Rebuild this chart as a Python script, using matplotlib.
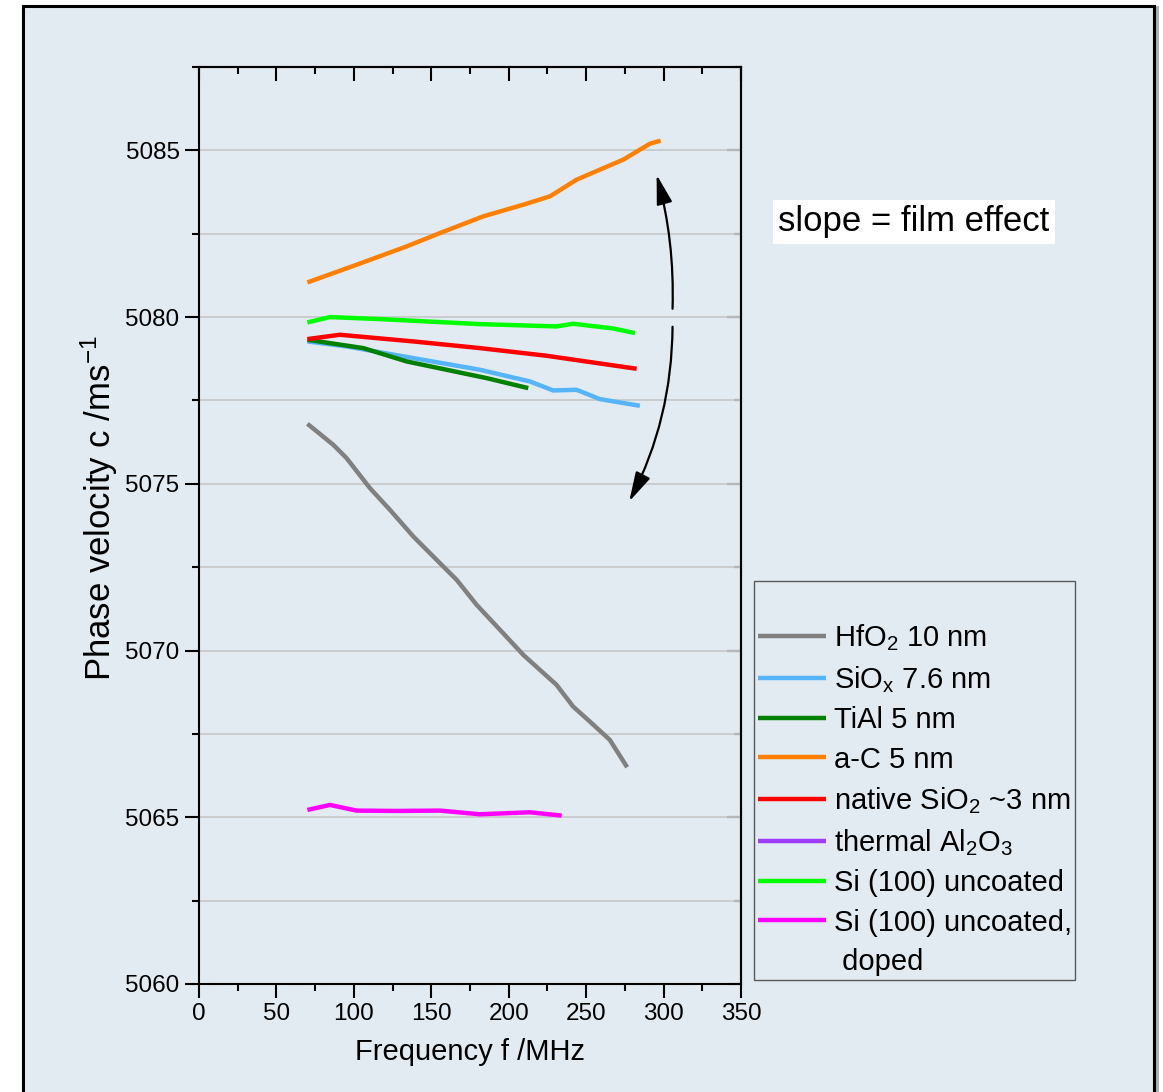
import numpy as np
import matplotlib
matplotlib.use('Agg')
import matplotlib.pyplot as plt
import matplotlib.patches as mpatches
from matplotlib.lines import Line2D
from matplotlib.ticker import MultipleLocator

# fonts (Arial look-alike)
plt.rcParams.update({
    'font.family': ['Liberation Sans', 'DejaVu Sans'],
    'mathtext.fontset': 'custom',
    'mathtext.rm': 'Liberation Sans',
    'mathtext.it': 'Liberation Sans:italic',
    'mathtext.bf': 'Liberation Sans:bold',
})

# data (frequency in MHz, phase velocity in m/s)
hfo2_f = [70.0, 86.7, 95.3, 110.4, 123.3, 138.4, 155.6, 166.4, 179.3, 196.4, 209.4, 230.9, 241.6, 252.4, 265.3, 276.5]
hfo2_c = [5076.80, 5076.17, 5075.77, 5074.87, 5074.22, 5073.42, 5072.62, 5072.12, 5071.37, 5070.52, 5069.87, 5068.97,
          5068.32, 5067.87, 5067.32, 5066.50]

siox_f = [70.0, 95.3, 138.4, 181.4, 213.7, 228.7, 243.8, 258.9, 284.7]
siox_c = [5079.27, 5079.12, 5078.77, 5078.42, 5078.07, 5077.80, 5077.82, 5077.54, 5077.34]

tial_f = [70.0, 106.1, 134.1, 159.9, 185.7, 212.6]
tial_c = [5079.32, 5079.07, 5078.67, 5078.42, 5078.17, 5077.87]

ac_f = [70.0, 101.8, 134.1, 155.6, 183.5, 209.4, 226.6, 243.8, 273.9, 291.2, 298.1]
ac_c = [5081.04, 5081.57, 5082.12, 5082.52, 5083.02, 5083.37, 5083.62, 5084.12, 5084.72, 5085.20, 5085.29]

native_f = [70.0, 91.0, 138.4, 181.4, 224.5, 282.6]
native_c = [5079.34, 5079.47, 5079.27, 5079.07, 5078.84, 5078.45]

al2o3_f = []
al2o3_c = []

si_f = [70.0, 84.6, 116.8, 181.4, 230.9, 241.4, 267.3, 281.5]
si_c = [5079.84, 5080.00, 5079.94, 5079.79, 5079.72, 5079.80, 5079.66, 5079.52]

sidoped_f = [70.0, 84.6, 101.8, 127.6, 155.6, 181.4, 213.7, 234.2]
sidoped_c = [5065.22, 5065.37, 5065.20, 5065.19, 5065.20, 5065.09, 5065.15, 5065.05]

series = [
    (hfo2_f, hfo2_c, '#808080', r'$\mathregular{HfO_2}$ 10 nm'),
    (siox_f, siox_c, '#56b4f9', r'$\mathregular{SiO_x}$ 7.6 nm'),
    (tial_f, tial_c, '#008000', 'TiAl 5 nm'),
    (ac_f, ac_c, '#ff8000', 'a-C 5 nm'),
    (native_f, native_c, '#ff0000', r'native $\mathregular{SiO_2}$ ~3 nm'),
    (al2o3_f, al2o3_c, '#9d3bff', r'thermal $\mathregular{Al_2O_3}$'),
    (si_f, si_c, '#00ff00', 'Si (100) uncoated'),
    (sidoped_f, sidoped_c, '#ff00ff', 'Si (100) uncoated,'),
]

bg = '#e3ebf2'
W, H = 1163, 1092

fig = plt.figure(figsize=(W / 100, H / 100), dpi=100, facecolor='white')

# outer frame with a small shadow
shadow = mpatches.Rectangle((27 / W, -0.02), (1159 - 27) / W, (1086 - 0) / H + 0.02,
                            transform=fig.transFigure, facecolor='#b0b0b0', edgecolor='none', zorder=-3)
frame = mpatches.Rectangle((22.5 / W, -0.02), (1154 - 22.5) / W, (1092 - 6.5) / H + 0.02,
                           transform=fig.transFigure, facecolor=bg, edgecolor='black', lw=2.2, zorder=-2)
fig.patches.extend([shadow, frame])

ax = fig.add_axes([199 / W, 1 - 984 / H, (741 - 199) / W, (984 - 67) / H])
ax.set_facecolor('none')

handles = []
for f, c, col, lab in series:
    ln, = ax.plot(f, c, color=col, lw=3.2, label=lab, solid_capstyle='butt', solid_joinstyle='round')
    handles.append(ln)
# second line of the last legend label, without a handle
handles.append(Line2D([], [], color='none', label=' doped'))

ax.set_xlim(0, 350)
ax.set_ylim(5060, 5087.5)
ax.xaxis.set_major_locator(MultipleLocator(50))
ax.xaxis.set_minor_locator(MultipleLocator(25))
ax.yaxis.set_major_locator(MultipleLocator(5))
ax.yaxis.set_minor_locator(MultipleLocator(2.5))
ax.grid(which='both', axis='y', color='#c8cacc', lw=1.3, zorder=0)
ax.set_axisbelow(True)

for s in ax.spines.values():
    s.set_linewidth(1.5)
ax.tick_params(which='major', direction='out', length=10, width=1.5, labelsize=17.5, pad=4)
ax.tick_params(which='minor', direction='out', length=5, width=1.5)

# top and right axes with inward ticks
top = ax.secondary_xaxis('top')
top.xaxis.set_major_locator(MultipleLocator(50))
top.xaxis.set_minor_locator(MultipleLocator(25))
top.tick_params(which='major', direction='in', length=10, width=1.5, labeltop=False)
top.tick_params(which='minor', direction='in', length=5, width=1.5)
right = ax.secondary_yaxis('right')
right.yaxis.set_major_locator(MultipleLocator(5))
right.yaxis.set_minor_locator(MultipleLocator(2.5))
right.tick_params(which='major', direction='in', length=10, width=1.5, labelright=False)
right.tick_params(which='minor', direction='in', length=5, width=1.5)
for sec in (top, right):
    for s in sec.spines.values():
        s.set_linewidth(1.5)

ax.set_xlabel('Frequency f /MHz', fontsize=21)
ax.set_ylabel(r'Phase velocity c /ms$^{\mathregular{-1}}$', fontsize=25)
ax.xaxis.set_label_coords(0.5, -0.059)
ax.yaxis.set_label_coords(-0.146, (984 - 508) / 917)

# curved arrows showing slope direction
arrow_style = '-|>,head_length=0.75,head_width=0.2'
ax.annotate('', xy=(295.5, 5084.27), xytext=(305.8, 5080.25),
            arrowprops=dict(arrowstyle=arrow_style, connectionstyle='arc3,rad=0.075', color='black',
                            lw=1.6, mutation_scale=24, shrinkA=0, shrinkB=0))
ax.annotate('', xy=(277.8, 5074.47), xytext=(305.8, 5079.71),
            arrowprops=dict(arrowstyle=arrow_style, connectionstyle='arc3,rad=-0.12', color='black',
                            lw=1.6, mutation_scale=24, shrinkA=0, shrinkB=0))

fig.text(914 / W, 1 - 222 / H, 'slope = film effect', ha='center', va='center', fontsize=25,
         bbox=dict(facecolor='white', edgecolor='none', pad=4))

leg = ax.legend(handles=handles, loc='upper left', bbox_to_anchor=(754 / W, 1 - 581 / H),
                bbox_transform=fig.transFigure,
                fontsize=21, title=' ', title_fontsize=20, frameon=True, fancybox=False,
                borderpad=0.12, labelspacing=0.39, handlelength=2.36, handletextpad=0.25,
                borderaxespad=0)
leg.get_frame().set_facecolor('none')
leg.get_frame().set_edgecolor('#333333')
leg.get_frame().set_linewidth(1.0)
for ln in leg.get_lines():
    ln.set_linewidth(3.2)

fig.savefig('out.png', dpi=100, facecolor='white')
